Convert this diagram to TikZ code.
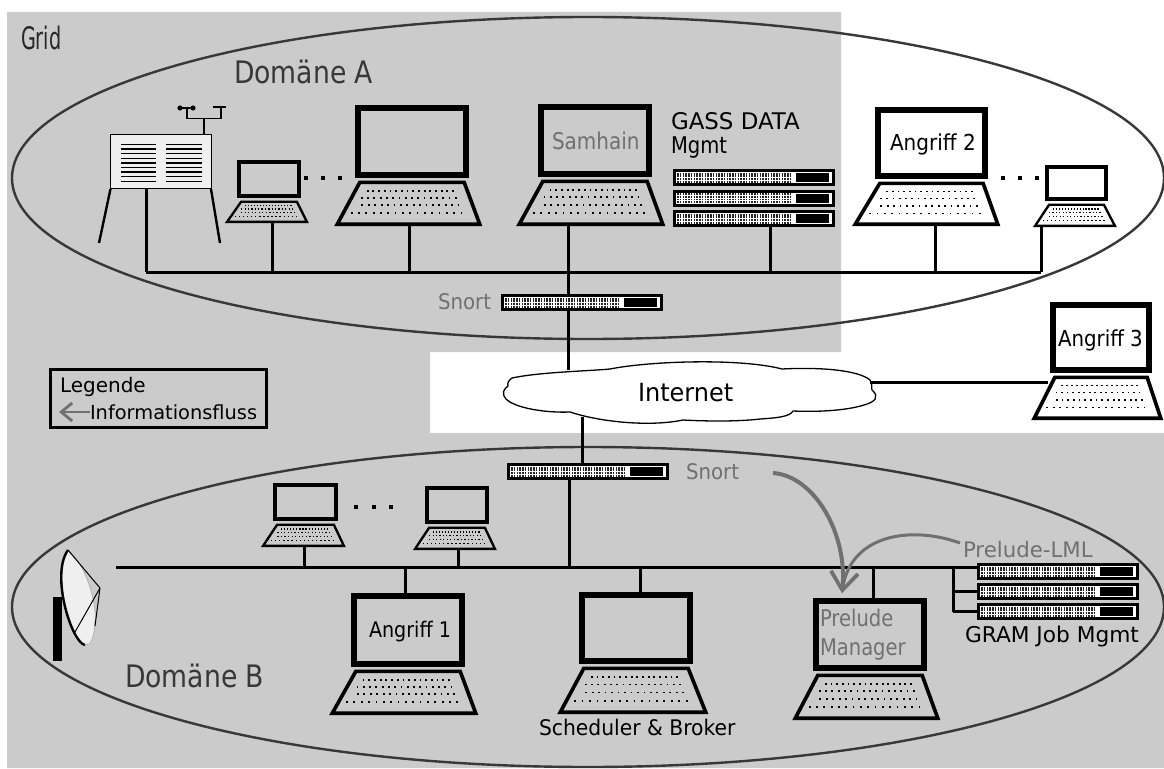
\documentclass[tikz,border=0pt]{standalone}
\usepackage{fontspec}
\setmainfont{DejaVu Sans}
\usetikzlibrary{arrows.meta,calc}
\definecolor{bggray}{HTML}{CBCBCB}
\definecolor{ringc}{HTML}{383838}
\definecolor{softt}{HTML}{707070}
\definecolor{panel}{HTML}{EFEFEF}
\tikzset{
  wire/.style={line width=3pt,black,line cap=butt},
  ring/.style={line width=2.4pt,ringc},
  lab/.style={anchor=base west,inner sep=0pt,outer sep=0pt,black},
  soft/.style={lab,text=softt},
  flow/.style={line width=4pt,softt,-{Straight Barb[length=18pt,width=27pt,line width=3.2pt]}},
  flowthin/.style={line width=3pt,softt,-{Straight Barb[length=18pt,width=27pt,line width=3.2pt]}},
  legflow/.style={line width=2.8pt,softt,-{Straight Barb[length=11pt,width=18pt,line width=2.8pt]}},
  screenbox/.style={draw=black,rectangle,inner sep=0pt,outer sep=0pt}
}
\newcommand{\fs}[1]{\fontsize{#1}{#1}\selectfont}
\newcommand{\sq}[3]{\scalebox{#1}[1]{\fs{#2}#3}}
% name, sx1,sx2,sy1,sy2, ky2,kx1,kx2, lw
\newcommand{\laptop}[9]{%
  \pgfmathsetmacro{\wid}{#3-#2-#9}%
  \pgfmathsetmacro{\hei}{#5-#4-#9}%
  \pgfmathsetmacro{\sxm}{(#2+#3)/2}%
  \pgfmathsetmacro{\sym}{(#4+#5)/2}%
  \node[screenbox,line width=#9pt,minimum width=\wid pt,minimum height=\hei pt] (#1) at (\sxm,\sym) {};
  \pgfmathsetmacro{\kw}{0.65*#9}%
  \pgfmathsetmacro{\kta}{#2+3+\kw/2}%
  \pgfmathsetmacro{\ktb}{#3-3-\kw/2}%
  \pgfmathsetmacro{\kya}{#5+2.5+\kw/2}%
  \pgfmathsetmacro{\kyb}{#6-\kw/2}%
  \pgfmathsetmacro{\kba}{#7+\kw*0.9}%
  \pgfmathsetmacro{\kbb}{#8-\kw*0.9}%
  \draw[line width=\kw pt,line join=miter] (\kta,\kya) -- (\ktb,\kya) -- (\kbb,\kyb) -- (\kba,\kyb) -- cycle;
  \coordinate (#1-k) at (\sxm,#6);
  \pgfmathsetmacro{\ds}{0.25*#9+0.4}%
  \foreach \f/\sh in {0.2/0.087,0.37/0.073,0.55/0.105,0.74/0.06}{%
    \pgfmathsetmacro{\ry}{\kya+(\kyb-\kya)*\f}%
    \pgfmathsetmacro{\ra}{\kta+(\kba-\kta)*\f+(\kbb-\kba)*\sh}%
    \pgfmathsetmacro{\rb}{\ktb+(\kbb-\ktb)*\f-(\kbb-\kba)*0.1}%
    \foreach \n in {0,...,15}{%
      \pgfmathsetmacro{\rx}{\ra+(\rb-\ra)*\n/15}%
      \fill (\rx-\ds/2,\ry-\ds/2) rectangle +(\ds,\ds);
    }
  }
}
% name, x, y (top-left outer corner)
\newcommand{\server}[3]{%
  \node[screenbox,fill=white,line width=3pt,minimum width=159pt,minimum height=14pt] (#1) at (#2+81,#3+8.5) {};
  \foreach \r in {4.6,7.3,10,12.7}{%
    \draw[line width=1.9pt,dash pattern=on 1.7pt off 1.05pt,black!85] (#2+4,#3+\r) -- (#2+117,#3+\r);
  }
  \fill (#2+123,#3+4) rectangle (#2+156,#3+13);
}
\newcommand{\tdots}[4]{%
  \foreach \q in {#1,#2,#3}{\fill (\q-1.7,#4-1.7) rectangle +(3.4,3.4);}
}
\begin{document}
\begin{tikzpicture}[x=1pt,y=-1pt]
\useasboundingbox (0,0) rectangle (1164,768);
\fill[white] (0,0) rectangle (1164,768);
% backdrop
\fill[bggray] (7,12) -- (841,12) -- (841,352) -- (430,352) -- (430,433) -- (1164,433) -- (1164,768) -- (7,768) -- cycle;
% domain rings
\draw[ring] (588,178) ellipse [x radius=576, y radius=161];
\draw[ring] (588,607) ellipse [x radius=576, y radius=160];

% Labels of areas
\node[lab] (tgrid) at (21,50) {\sq{0.62}{31}{\color{black!85}Grid}};
\node[lab] (tda) at (234,83) {\sq{0.86}{31}{\color{black!78}Domäne A}};
\node[lab] (tdb) at (125,687) {\sq{0.86}{31}{\color{black!78}Domäne B}};

% Weather station
\node[screenbox,fill=panel,line width=1.4pt,minimum width=101pt,minimum height=54pt] (wx) at (161,161.5) {};
\foreach \l in {0,...,8}{
  \draw[line width=1.4pt] (121,144.5+\l*4.6) -- (156,144.5+\l*4.6);
  \draw[line width=1.4pt] (166,144.5+\l*4.6) -- (202,144.5+\l*4.6);
}
\draw[line width=2.4pt] (110.5,189) -- (99,243);
\draw[line width=2.4pt] (211,189) -- (220,243);
\draw[line width=1.5pt] (204,134) -- (204,118.5) (187,108) -- (187,118.5) -- (221,118.5) -- (221,107) (213,107) -- (226,107) (180,108) -- (193,108);
\fill (180,108) circle (2.6) (193,108) circle (2.6);

% Domain A devices
\laptop{la}{237}{301}{160}{198}{223}{225}{309}{3.6}
\tdots{306}{323}{340}{178}
\laptop{lb}{355}{469}{105}{178}{226}{334}{483}{5.6}
\laptop{lc}{538}{652}{104}{177}{226}{516}{666}{5.6}
\laptop{ld}{875}{988}{107}{179}{226}{852}{1001}{5.6}
\tdots{1003}{1020}{1037}{178}
\laptop{le}{1045}{1108}{165}{201}{227}{1033}{1117}{3.6}
\server{sa}{673}{169}
\server{sb}{673}{189.5}
\server{sc}{673}{210}
\server{snorta}{501}{294}

\coordinate (busaL) at (146,272);
\coordinate (busaR) at (1041,272);
\coordinate (ja) at (272,272);
\coordinate (jb) at (409,272);
\coordinate (jc) at (568,272);
\coordinate (jd) at (770,272);
\coordinate (je) at (935,272);
\draw[wire] (busaL) -- (busaR);
\draw[wire] (wx.south -| busaL) -- (busaL);
\draw[wire] (la-k -| ja) -- (ja);
\draw[wire] (lb-k -| jb) -- (jb);
\draw[wire] (lc-k -| jc) -- (jc);
\draw[wire] (sc.south -| jd) -- (jd);
\draw[wire] (ld-k -| je) -- (je);
\draw[wire] (le-k -| busaR) -- (busaR);
\draw[wire] (jc) -- (snorta.north -| jc);

% Cloud
\coordinate (cloudA) at (568,370);
\coordinate (cloudB) at (582,417);
\coordinate (cloudC) at (870,382);
\draw[wire] (snorta.south -| cloudA) -- (cloudA);
\draw[wire] (cloudB) -- (582,463);
\node[inner sep=0pt] (cloud) at (688,393) {};
\draw[fill=white,line width=1.3pt] (512,378)
  .. controls (540,372) and (590,371) .. (610,369)
  .. controls (650,361) and (740,358) .. (782,369)
  .. controls (820,367) and (858,370) .. (870,380)
  .. controls (873,385) and (871,388) .. (872,390)
  .. controls (880,397) and (875,402) .. (864,405)
  .. controls (845,411) and (815,412) .. (793,411)
  .. controls (790,417) and (775,418) .. (760,419)
  .. controls (735,422) and (700,421) .. (683,420)
  .. controls (650,427) and (600,422) .. (570,412)
  .. controls (545,413) and (515,408) .. (506,399)
  .. controls (501,393) and (504,389) .. (508,386)
  .. controls (507,383) and (509,380) .. (512,378) -- cycle;
\node[lab] (tnet) at (638,401) {\sq{0.96}{25}{Internet}};

% Angriff 3
\laptop{lf}{1050}{1152}{302}{373}{420}{1031}{1164}{5.6}
\coordinate (lfj) at (1048,382);
\draw[wire] (cloudC) -- (lfj);

% Legend
\node[screenbox,line width=2.6pt,minimum width=216pt,minimum height=58pt] (leg) at (158.5,398.5) {};
\node[lab] (tleg) at (60,392) {\fs{20}Legende};
\node[lab] (tinf) at (90,419) {\fs{19.4}Informationsfluss};
\coordinate (legtip) at (59,412);
\draw[legflow] (tinf.base west |- legtip) -- (legtip);

% Domain B devices
\server{snortb}{507}{463}
\coordinate (busbL) at (116,567);
\coordinate (busbR) at (977,567);
\coordinate (jg) at (304,567);
\coordinate (jh) at (458,567);
\coordinate (ji) at (569,567);
\coordinate (jj) at (405,567);
\coordinate (jk) at (640,567);
\coordinate (jl) at (873,567);
\coordinate (jm) at (953,567);
\draw[wire] (busbL) -- (busbR);
\laptop{lg}{273}{338}{483}{521}{547}{261}{346}{3.6}
\tdots{356}{374}{391}{507}
\laptop{lh}{425}{489}{486}{524}{550}{413}{497}{3.6}
\laptop{li}{351}{465}{593}{667}{715}{329}{479}{5.6}
\laptop{lj}{579}{693}{592}{664}{714}{557}{709}{5.6}
\laptop{lk}{813}{927}{598}{671}{720}{792}{941}{5.6}
\server{sd}{977}{563}
\server{se}{977}{583}
\server{sf}{977}{603}
\draw[wire] (lg-k -| jg) -- (jg);
\draw[wire] (lh-k -| jh) -- (jh);
\draw[wire] (snortb.south -| ji) -- (ji);
\draw[wire] (jj) -- (li.north -| jj);
\draw[wire] (jk) -- (lj.north -| jk);
\draw[wire] (jl) -- (lk.north -| jl);
\draw[wire] (jm) -- (jm |- sf);
\draw[wire] (jm |- se) -- (se.west);
\draw[wire] (jm |- sf) -- (sf.west);

% Dish
\fill (53,597) rectangle (62,661);
\draw[line width=0.6pt,panel!70!black,fill=panel] (68,550) .. controls (84,562) and (97,600) .. (95,622) .. controls (94,640) and (90,646) .. (85,645) .. controls (72,643) and (52,575) .. (68,550) -- cycle;
\draw[line width=2.4pt] (85,645) .. controls (72,643) and (50,575) .. (68,550);
\coordinate (feed) at (100,588);
\draw[line width=1pt] (68,550) -- (feed) -- (75,632) (feed) -- (95,626);

% Gray flows and labels
\node[soft] (tsa) at (438,309) {\sq{0.92}{21.5}{Snort}};
\node[soft] (tsb) at (686,479) {\sq{0.92}{21.5}{Snort}};
\node[soft] (tlml) at (963,557) {\fs{21.3}Prelude-LML};
\coordinate (tip) at (842,593);
\draw[flow] (773,473) .. controls (815,476) and (848,535) .. (tip);
\draw[flowthin] (960,543) .. controls (910,525) and (850,535) .. (tip);

% Device texts
\node[soft] (tsam) at (552,149) {\sq{0.87}{23}{Samhain}};
\node[lab] (tgass) at (671,129) {\fs{22.9}GASS DATA};
\node[lab] (tmg) at (671,153) {\sq{0.85}{23}{Mgmt}};
\node[lab] (tan2) at (890,150) {\sq{0.91}{22}{Angriff 2}};
\node[lab] (tan3) at (1058,346) {\sq{0.9}{22}{Angriff 3}};
\node[lab] (tan1) at (369,637) {\sq{0.89}{21.5}{Angriff 1}};
\node[soft] (tpr) at (820,626) {\sq{0.85}{23}{Prelude}};
\node[soft] (tma) at (820,655) {\sq{0.85}{23}{Manager}};
\node[lab] (tgram) at (965,642) {\fs{21.7}GRAM Job Mgmt};
\node[lab] (tsch) at (539,735) {\sq{0.944}{21.5}{Scheduler \& Broker}};
\end{tikzpicture}
\end{document}
